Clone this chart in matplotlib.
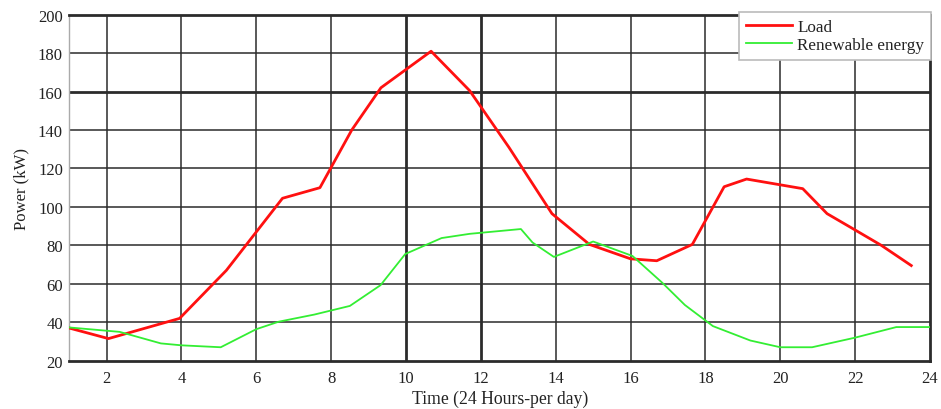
import numpy as np
import matplotlib
matplotlib.use("Agg")
import matplotlib.pyplot as plt

# ============================================================
# DATA
# ============================================================

load_hours = [1, 2.05, 3.95, 5.2, 6.7, 7.7, 8.55, 9.33, 10.67, 11.7, 12.75,
              13.9, 14.9, 16.0, 16.7, 17.65, 18.5, 19.1, 20.6, 21.25, 22.0,
              22.7, 23.5]
load_kw = [37, 31.5, 42, 67, 104.5, 110, 140, 162, 181, 160.5, 131,
           96.5, 80.5, 73, 72, 80.5, 110.5, 114.5, 109.5, 96.5, 88,
           80, 69.5]

renew_hours = [1, 2.35, 3.45, 4.0, 5.05, 6.0, 6.6, 7.55, 8.5, 9.32, 9.98,
               10.95, 11.7, 13.07, 13.38, 13.95, 15.0, 16.05, 16.85, 17.45,
               18.2, 19.2, 20.0, 20.85, 22.0, 23.1, 24]
renew_kw = [37.3, 35, 29, 28, 27, 36.4, 40.3, 44, 48.5, 59.3, 75.5,
            83.8, 86, 88.5, 81.5, 74, 82, 74.5, 60.5, 49,
            38, 30.5, 27, 27, 32, 37.5, 37.5]

x_ticks = list(range(2, 25, 2))
y_ticks = list(range(20, 201, 20))

# ============================================================
# FIGURE
# ============================================================

plt.rcParams["font.family"] = ["Liberation Serif", "DejaVu Serif"]

fig = plt.figure(figsize=(9.41, 4.10), dpi=100)
ax = fig.add_axes([0.0735, 0.1178, 0.9148, 0.8439])

ax.set_xlim(1, 24)
ax.set_ylim(20, 200)
ax.set_xticks(x_ticks)
ax.set_yticks(y_ticks)

# grid, with a few heavier lines
for xv in x_ticks[:-1]:
    lw = 2.0 if xv in (10, 12) else 1.1
    ax.axvline(xv, color="#2b2b2b", lw=lw, zorder=1)
for yv in y_ticks[1:-1]:
    lw = 2.0 if yv == 160 else 1.1
    ax.axhline(yv, color="#2b2b2b", lw=lw, zorder=1)

ax.plot(load_hours, load_kw, color="#ff1010", lw=2.0, label="Load", zorder=3)
ax.plot(renew_hours, renew_kw, color="#33ee33", lw=1.3,
        label="Renewable energy", zorder=3)

for side in ["top", "bottom", "right"]:
    ax.spines[side].set_linewidth(2.0)
    ax.spines[side].set_color("#2b2b2b")
ax.spines["left"].set_linewidth(1.0)
ax.spines["left"].set_color("#aaaaaa")

ax.tick_params(length=0, labelsize=12, colors="#222222")
ax.tick_params(axis="x", pad=6.5)
ax.tick_params(axis="y", pad=4.5)

ax.set_xlabel("Time (24 Hours-per day)", fontsize=12.7, color="#222222")
ax.set_ylabel("Power (kW)", fontsize=12, color="#222222")
ax.xaxis.set_label_coords(0.501, -0.084)
ax.yaxis.set_label_coords(-0.046, 0.5)

leg = ax.legend(
    loc="upper right",
    bbox_to_anchor=(931 / 941, 1 - 13 / 410),
    bbox_transform=fig.transFigure,
    borderaxespad=0,
    fontsize=12.3,
    frameon=True,
    fancybox=False,
    handlelength=2.7,
    handletextpad=0.3,
    labelspacing=0.15,
    borderpad=0.4,
)
leg.get_frame().set_edgecolor("#bbbbbb")
leg.get_frame().set_linewidth(1.2)
leg.get_frame().set_alpha(1)
for txt in leg.get_texts():
    txt.set_color("#222222")
leg.set_zorder(5)

plt.savefig("out.png", dpi=100)
plt.close()
